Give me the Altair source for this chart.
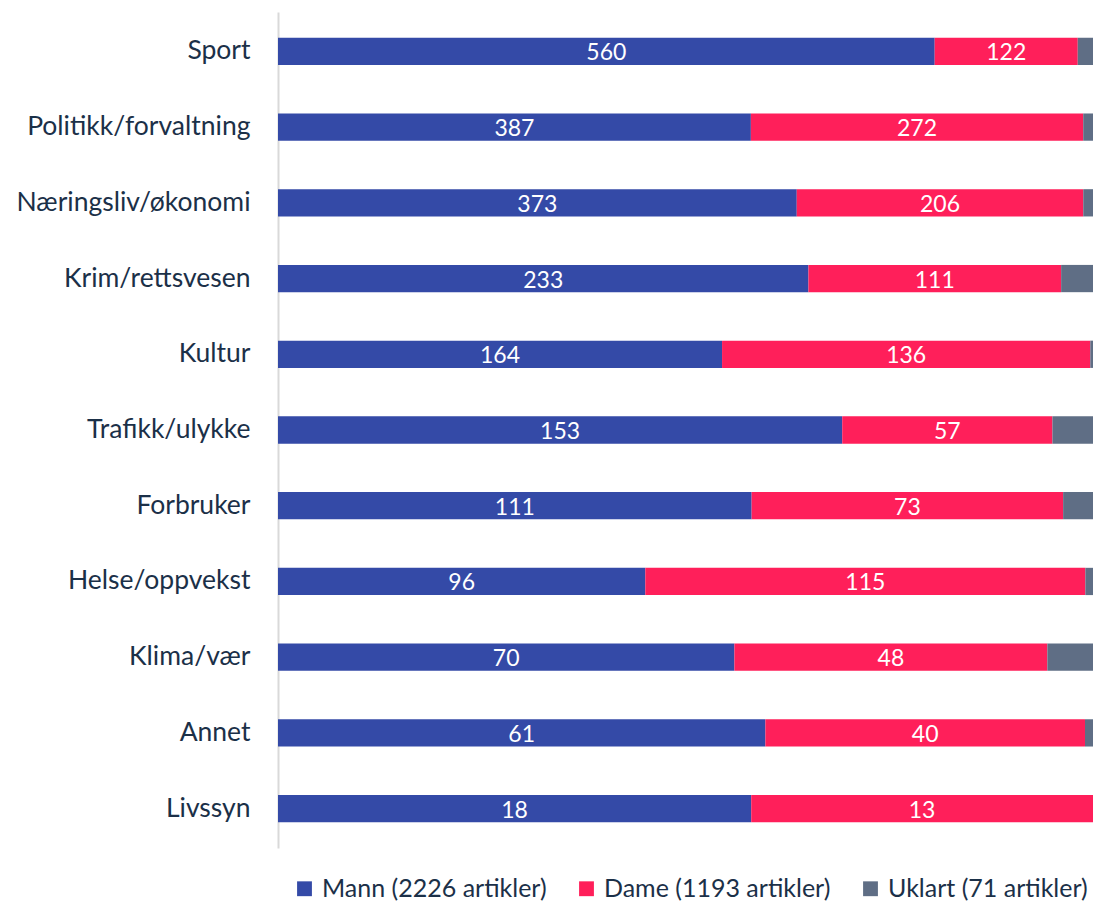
import altair as alt
import pandas as pd

categories = ["Sport", "Politikk/forvaltning", "Næringsliv/økonomi", "Krim/rettsvesen",
              "Kultur", "Trafikk/ulykke", "Forbruker", "Helse/oppvekst", "Klima/vær",
              "Annet", "Livssyn"]
mann = [560, 387, 373, 233, 164, 153, 111, 96, 70, 61, 18]
dame = [122, 272, 206, 111, 136, 57, 73, 115, 48, 40, 13]
uklart = [13, 8, 7, 14, 1, 11, 7, 2, 7, 1, 0]
series = ["Mann (2226 artikler)", "Dame (1193 artikler)", "Uklart (71 artikler)"]
colors = ["#344AA7", "#FF1F5A", "#5F6E85"]

rows = []
for i, c in enumerate(categories):
    for j, vals in enumerate([mann, dame, uklart]):
        rows.append({"cat": c, "serie": series[j], "value": vals[i], "order": j})
df = pd.DataFrame(rows)

FONT = "Lato"
base = alt.Chart(df).transform_stack(
    stack="value", groupby=["cat"], as_=["x0", "x1"], offset="normalize",
    sort=[alt.SortField("order", order="ascending")]
)

yenc = alt.Y("cat:N", sort=categories, title=None,
             scale=alt.Scale(paddingInner=0.64, paddingOuter=0.34),
             axis=alt.Axis(domain=True, domainColor="#d9d9d9", domainWidth=2, ticks=False,
                           labelFont=FONT, labelFontSize=26.5, labelColor="#1B3048",
                           labelPadding=28, labelLimit=300))

bars = base.mark_bar().encode(
    x=alt.X("x0:Q", scale=alt.Scale(domain=[0, 1]), axis=None),
    x2="x1:Q",
    y=yenc,
    color=alt.Color("serie:N", sort=series,
                    scale=alt.Scale(domain=series, range=colors),
                    legend=alt.Legend(title=None, orient="none", direction="horizontal",
                                      legendX=14, legendY=864,
                                      symbolType="square", symbolSize=220,
                                      symbolStrokeWidth=0, labelOffset=5,
                                      labelFont=FONT, labelFontSize=25, labelColor="#1B3048",
                                      columnPadding=27, labelLimit=400)),
)

text = base.transform_filter("datum.order < 2").transform_calculate(
    mid="(datum.x0 + datum.x1) / 2"
).mark_text(color="white", font=FONT, fontSize=23, baseline="middle", dy=2).encode(
    x=alt.X("mid:Q", scale=alt.Scale(domain=[0, 1]), axis=None),
    y=alt.Y("cat:N", sort=categories),
    text="value:Q",
)

chart = alt.layer(bars, text).properties(
    width=815, height=836,
    autosize=alt.AutoSizeParams(type="none"),
    padding={"left": 270, "top": 4, "right": 8, "bottom": 60},
).configure_view(stroke=None)

chart.save("out.html", embed_options={"renderer": "svg", "actions": False})
